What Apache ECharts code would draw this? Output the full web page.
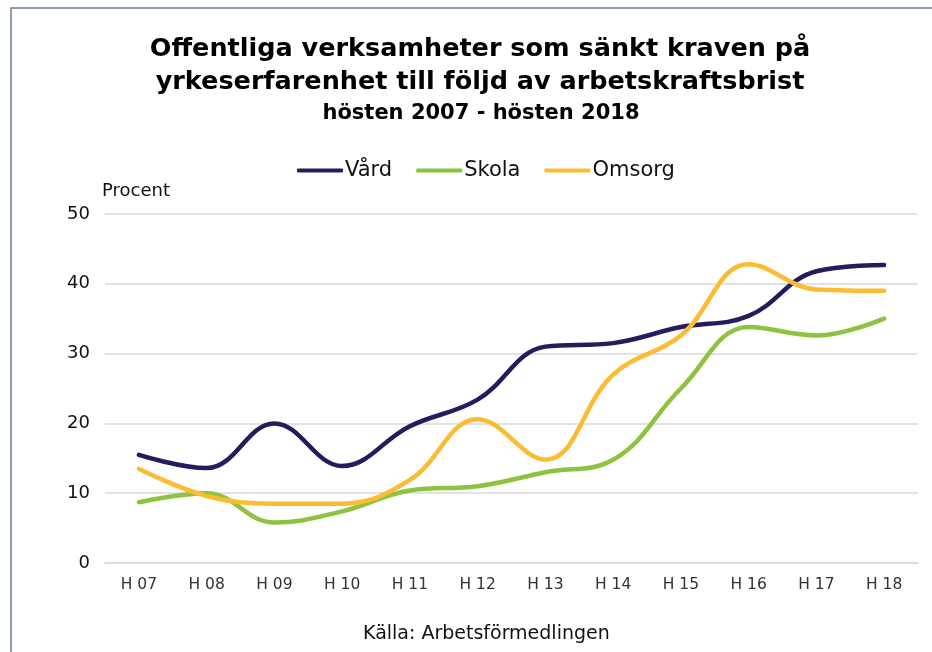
<!DOCTYPE html>
<html>
<head>
<meta charset="utf-8">
<script src="https://cdn.jsdelivr.net/npm/echarts@6/dist/echarts.min.js"></script>
<style>
  html, body { margin: 0; padding: 0; background: #fff; }
  #chart { width: 932px; height: 652px; }
</style>
</head>
<body>
<div id="chart"></div>
<script>
// Offentliga verksamheter — sänkta krav på yrkeserfarenhet, H 07 – H 18

const categories = ['H 07', 'H 08', 'H 09', 'H 10', 'H 11', 'H 12', 'H 13', 'H 14', 'H 15', 'H 16', 'H 17', 'H 18'];
const vard   = [15.5, 13.6, 20.0, 13.9, 19.6, 23.4, 31.0, 31.5, 33.8, 35.4, 41.8, 42.7];
const skola  = [8.7, 10.0, 5.8, 7.4, 10.4, 11.0, 13.0, 14.8, 25.0, 33.8, 32.6, 35.0];
const omsorg = [13.5, 9.6, 8.5, 8.5, 11.9, 20.6, 14.8, 27.0, 32.6, 42.8, 39.2, 39.0];

const FONT = '"DejaVu Sans", "Liberation Sans", Arial, sans-serif';
const COLORS = { vard: '#221d5e', skola: '#8dc33f', omsorg: '#fbbc34' };

function line(name, data, color) {
  return {
    name,
    type: 'line',
    data,
    smooth: 0.4,
    symbol: 'none',
    color,
    lineStyle: { color, width: 4.5, cap: 'round', join: 'round' },
  };
}

const chart = echarts.init(document.getElementById('chart'));
chart.setOption({
  animation: false,
  textStyle: { fontFamily: FONT },
  title: [
    {
      text: 'Offentliga verksamheter som sänkt kraven på\nyrkeserfarenhet till följd av arbetskraftsbrist',
      left: 475, top: 28, textAlign: 'center',
      textStyle: { fontFamily: FONT, fontSize: 25.5, fontWeight: 'bold', color: '#000', lineHeight: 33 },
    },
    {
      text: 'hösten 2007 - hösten 2018',
      left: 476, top: 98, textAlign: 'center',
      textStyle: { fontFamily: FONT, fontSize: 21, fontWeight: 'bold', color: '#000' },
    },
  ],
  legend: {
    top: 155,
    left: 292,
    itemWidth: 46,
    itemHeight: 4,
    itemGap: 24,
    icon: 'roundRect',
    textStyle: { fontFamily: FONT, fontSize: 21, color: '#111', padding: [0, 0, 0, -3] },
    data: ['Vård', 'Skola', 'Omsorg'],
  },
  graphic: [
    {
      type: 'rect',
      shape: { x: 11, y: 8, width: 1000, height: 1000 },
      style: { fill: 'none', stroke: '#6b7d96', lineWidth: 1.5 },
      silent: true, z: -1,
    },
    {
      type: 'text', left: 363, top: 625,
      style: { text: 'Källa: Arbetsförmedlingen', font: '19px ' + FONT, fill: '#111' },
    },
  ],
  grid: { left: 105, right: 14, top: 214, bottom: 89 },
  xAxis: {
    type: 'category',
    data: categories,
    boundaryGap: true,
    axisLine: { show: true, lineStyle: { color: '#d9d9d9', width: 1.5 } },
    axisTick: { show: false },
    axisLabel: { fontFamily: FONT, fontSize: 15.5, color: '#333', margin: 14 },
  },
  yAxis: {
    type: 'value',
    min: 0, max: 50, interval: 10,
    name: 'Procent',
    nameLocation: 'end',
    nameGap: 14,
    nameTextStyle: { fontFamily: FONT, fontSize: 18, color: '#111', align: 'left', padding: [0, 0, 0, -3] },
    axisLine: { show: false },
    axisTick: { show: false },
    axisLabel: { fontFamily: FONT, fontSize: 18, color: '#111', margin: 15 },
    splitLine: { lineStyle: { color: '#d9d9d9', width: 1.5 } },
  },
  series: [
    line('Vård', vard, COLORS.vard),
    line('Skola', skola, COLORS.skola),
    line('Omsorg', omsorg, COLORS.omsorg),
  ],
});
</script>
</body>
</html>
